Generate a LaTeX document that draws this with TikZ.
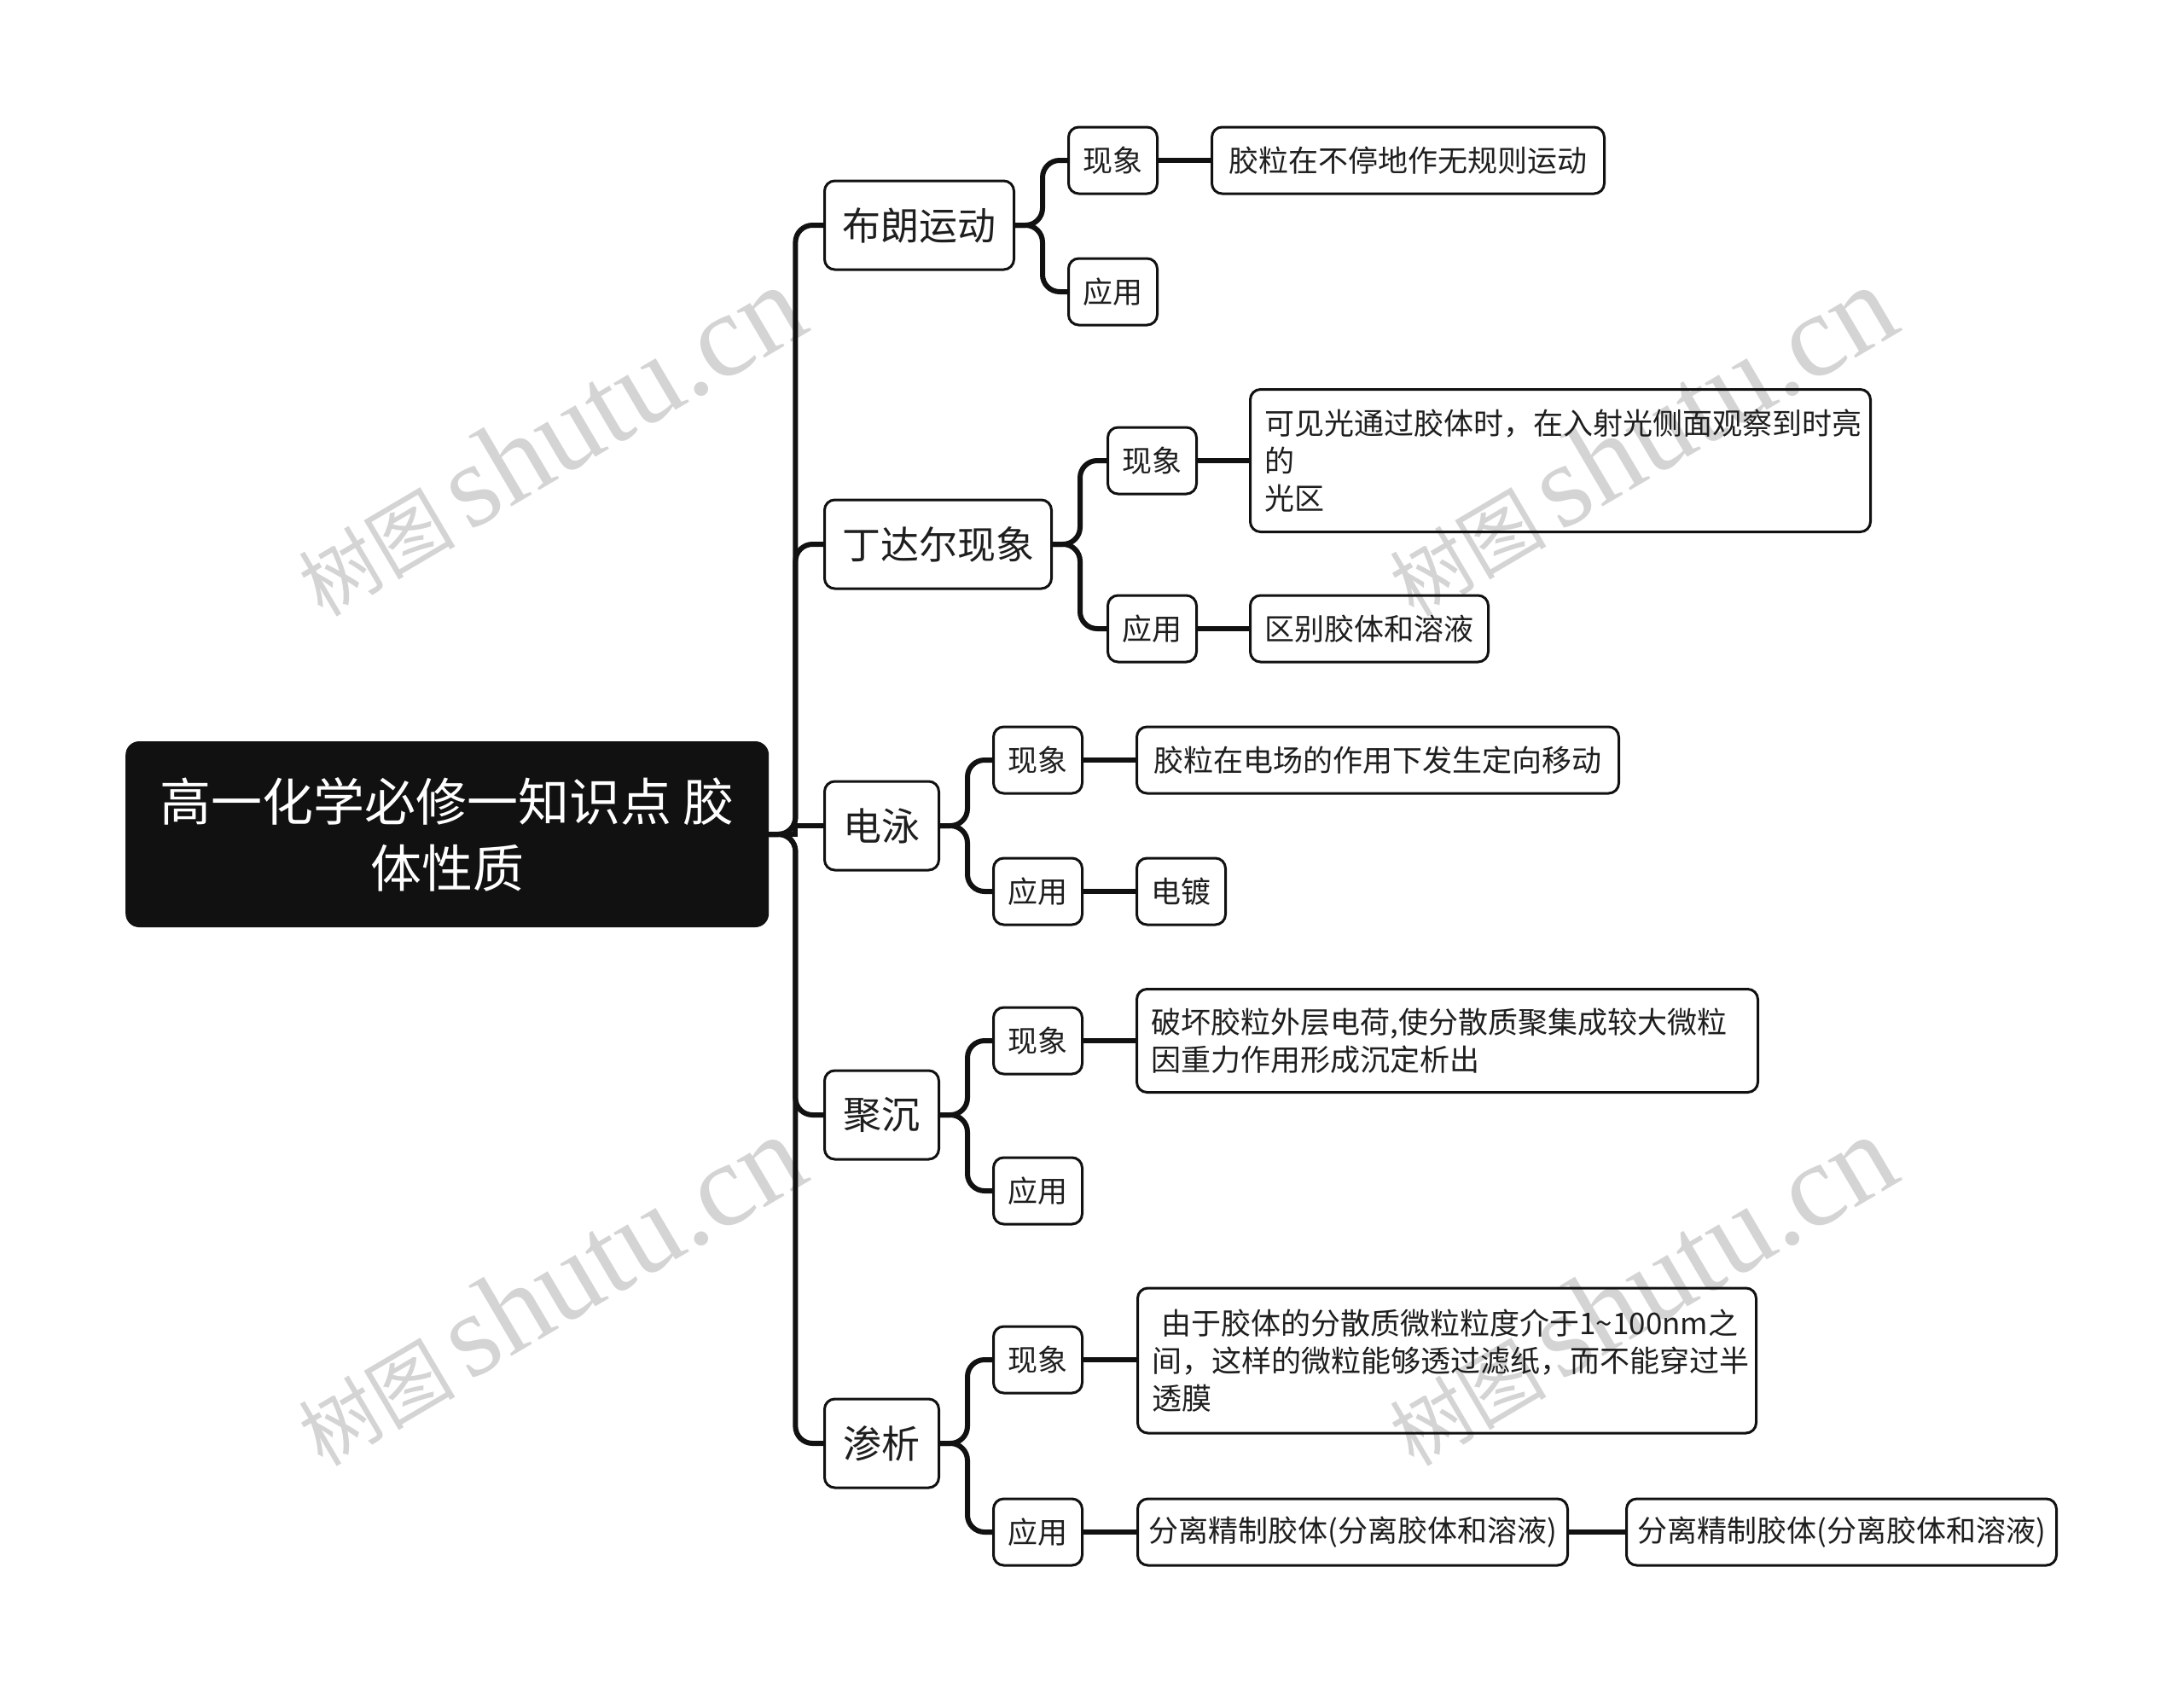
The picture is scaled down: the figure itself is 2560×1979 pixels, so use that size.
\documentclass[tikz,border=0pt]{standalone}
\usepackage{fontspec}
\setmainfont{Noto Sans CJK SC}
\newfontfamily\wmserif{Liberation Serif}
\definecolor{rootc}{HTML}{111111}
\definecolor{linec}{HTML}{111111}
\definecolor{txtc}{HTML}{1E1E1E}
\definecolor{wmc}{HTML}{D4D4D4}
\tikzset{
  rootbox/.style={fill=rootc, rounded corners=16pt, text=white, align=center,
    font=\fontsize{60}{78}\selectfont, minimum width=754pt, minimum height=218pt,
    inner sep=0pt, anchor=west},
  lonebox/.style={draw=linec, line width=3pt, rounded corners=12pt, text=txtc,
    font=\fontsize{45}{56}\selectfont, minimum height=104pt, inner sep=0pt, anchor=west},
  ltwobox/.style={draw=linec, line width=3pt, rounded corners=12pt, text=txtc,
    font=\fontsize{35}{44}\selectfont, minimum height=78pt, minimum width=104pt,
    inner sep=0pt, anchor=west},
  leafbox/.style={draw=linec, line width=3pt, rounded corners=12pt, text=txtc,
    font=\fontsize{35}{44}\selectfont, minimum height=78pt, inner xsep=17pt,
    inner ysep=0pt, anchor=west, align=left},
  conn/.style={draw=linec, line width=6pt, rounded corners=20pt},
  wmark/.style={text=wmc, rotate=30.5, inner sep=0pt}
}
\begin{document}
\begin{tikzpicture}[x=1pt,y=-1pt]
\fill[white] (0,0) rectangle (2560,1979);
\useasboundingbox (0,0) rectangle (2560,1979);

% watermarks
\foreach \wx/\wy/\wn in {643/517/wa, 1922/517/wb, 643/1513/wc, 1922/1513/wd}{
  \node[wmark] (\wn) at (\wx,\wy) {{\fontsize{92}{92}\selectfont 树图}\hspace{16pt}{\wmserif\fontsize{139}{139}\selectfont shutu.cn}};
}

% root
\node[rootbox] (root) at (147,978) {高一化学必修一知识点 胶\\体性质};

% level 1
\node[lonebox, minimum width=222pt] (bl) at (965,264) {布朗运动};
\node[lonebox, minimum width=266pt] (dd) at (965,638) {丁达尔现象};
\node[lonebox, minimum width=134pt] (dy) at (965,968) {电泳};
\node[lonebox, minimum width=134pt] (jc) at (965,1307) {聚沉};
\node[lonebox, minimum width=134pt] (sx) at (965,1692) {渗析};

% level 2
\node[ltwobox] (bla) at (1251,188) {现象};
\node[ltwobox] (blb) at (1251,342) {应用};
\node[ltwobox] (dda) at (1297,540) {现象};
\node[ltwobox] (ddb) at (1297,737) {应用};
\node[ltwobox] (dya) at (1163,891) {现象};
\node[ltwobox] (dyb) at (1163,1045) {应用};
\node[ltwobox] (jca) at (1163,1220) {现象};
\node[ltwobox] (jcb) at (1163,1396) {应用};
\node[ltwobox] (sxa) at (1163,1594) {现象};
\node[ltwobox] (sxb) at (1163,1796) {应用};

% leaves
\node[leafbox, minimum width=460pt] (blaL) at (1419,188) {胶粒在不停地作无规则运动};
\node[leafbox, text width=693pt, minimum height=167pt] (ddaL) at (1464,540)
  {可见光通过胶体时，在入射光侧面观察到时亮\\的\\光区};
\node[leafbox, minimum width=277pt] (ddbL) at (1464,737) {区别胶体和溶液};
\node[leafbox, minimum width=565pt] (dyaL) at (1331,891) {胶粒在电场的作用下发生定向移动};
\node[leafbox, minimum width=104pt] (dybL) at (1331,1045) {电镀};
\node[leafbox, text width=694pt, minimum height=121pt] (jcaL) at (1331,1220)
  {破坏胶粒外层电荷,使分散质聚集成较大微粒\\因重力作用形成沉定析出};
\node[leafbox, text width=691pt, minimum height=170pt] (sxaL) at (1332,1595)
  {\hspace*{11pt}由于胶体的分散质微粒粒度介于1\char`\~100nm之\\间，这样的微粒能够透过滤纸，而不能穿过半\\透膜};
\node[leafbox, inner xsep=11pt, minimum width=504pt] (sxbL) at (1332,1796) {分离精制胶体(分离胶体和溶液)};
\node[leafbox, inner xsep=11pt, minimum width=504pt] (sxbM) at (1905,1796) {分离精制胶体(分离胶体和溶液)};

% connectors root -> level 1
\draw[conn] (root.east) -- ++(31,0) |- (bl.west);
\draw[conn] (root.east) -- ++(31,0) |- (dd.west);
\draw[conn, sharp corners] (root.east) -- ++(31,0) |- (dy.west);
\draw[conn] (root.east) -- ++(31,0) |- (jc.west);
\draw[conn] (root.east) -- ++(31,0) |- (sx.west);

% level 1 -> level 2
\draw[conn] (bl.east) -- ++(32,0) |- (bla.west);
\draw[conn] (bl.east) -- ++(32,0) |- (blb.west);
\draw[conn] (dd.east) -- ++(32,0) |- (dda.west);
\draw[conn] (dd.east) -- ++(32,0) |- (ddb.west);
\draw[conn] (dy.east) -- ++(32,0) |- (dya.west);
\draw[conn] (dy.east) -- ++(32,0) |- (dyb.west);
\draw[conn] (jc.east) -- ++(32,0) |- (jca.west);
\draw[conn] (jc.east) -- ++(32,0) |- (jcb.west);
\draw[conn] (sx.east) -- ++(32,0) |- (sxa.west);
\draw[conn] (sx.east) -- ++(32,0) |- (sxb.west);

% level 2 -> leaves
\draw[conn] (bla.east) -- (bla.east -| blaL.west);
\draw[conn] (dda.east) -- (dda.east -| ddaL.west);
\draw[conn] (ddb.east) -- (ddb.east -| ddbL.west);
\draw[conn] (dya.east) -- (dya.east -| dyaL.west);
\draw[conn] (dyb.east) -- (dyb.east -| dybL.west);
\draw[conn] (jca.east) -- (jca.east -| jcaL.west);
\draw[conn] (sxa.east) -- (sxa.east -| sxaL.west);
\draw[conn] (sxb.east) -- (sxb.east -| sxbL.west);
\draw[conn] (sxbL.east) -- (sxbL.east -| sxbM.west);
\end{tikzpicture}
\end{document}
